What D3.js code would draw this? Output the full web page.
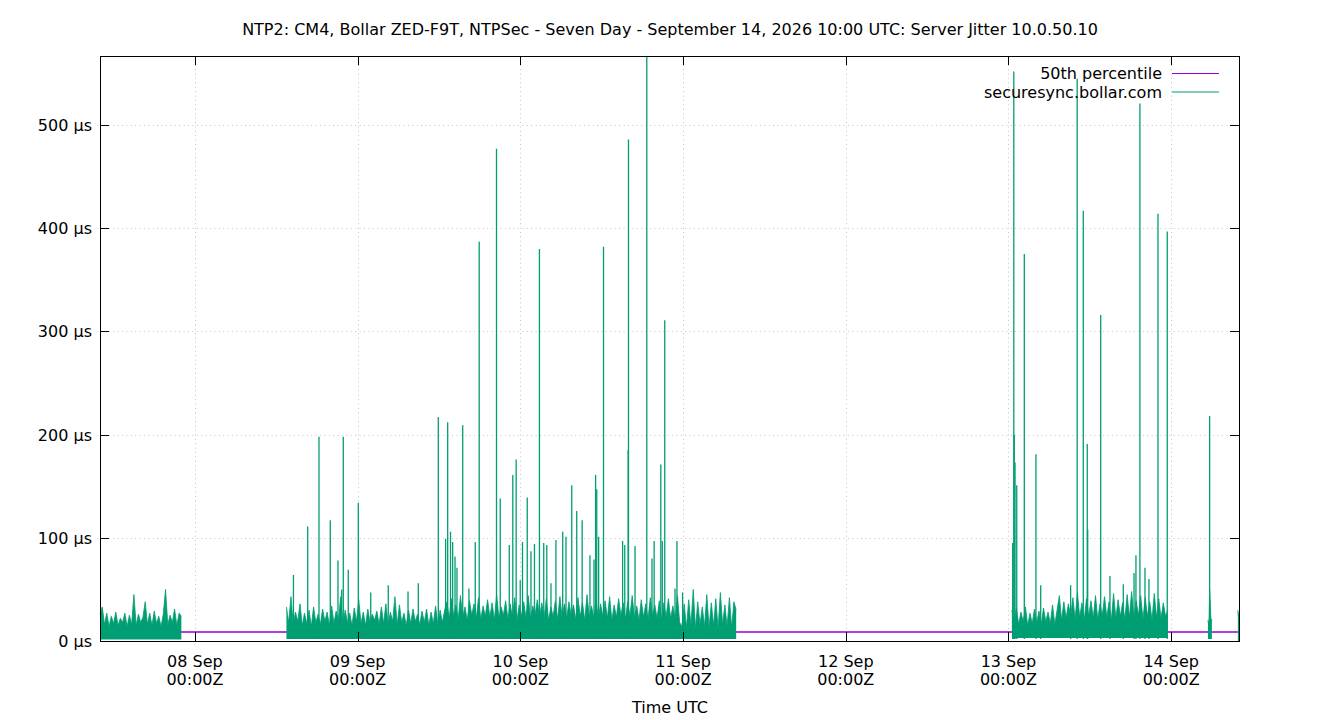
<!DOCTYPE html>
<html>
<head>
<meta charset="utf-8">
<script src="https://cdn.jsdelivr.net/npm/d3@7"></script>
<style>
body { margin: 0; background: #fff; }
svg text { font-family: "DejaVu Sans", sans-serif; font-size: 16px; fill: #000; }
</style>
</head>
<body>
<svg id="chart" width="1340" height="720"></svg>
<script>
// time window of the plot
const windowStart = "09-07 10:00";
const windowEnd = "09-14 10:00";

// 50th percentile (flat over the window)
const medianTimes = ["09-07 10:00", "09-14 10:00"];
const medianValues = [8.8, 8.8];

// jitter samples, one run of readings per block of data
const segmentStarts = ["09-07 10:00", "09-08 13:30", "09-13 00:30", "09-14 05:25", "09-14 09:50"];
const segmentStepMinutes = [20, 20, 20, 5, 5];
const segmentFloors = [1.5, 2, 3, 2, 0];

const seg1Values = [26, 33, 16, 27, 14, 24, 17, 28, 15, 22, 18, 27, 14, 25, 16, 45, 15, 26, 18, 23,
  38, 16, 27, 15, 29, 17, 24, 14, 26, 50, 16, 25, 18, 31, 15, 27, 24];

const seg2Values = [33, 18, 43, 16, 28, 19, 36, 15, 27, 17, 30, 14, 33, 18, 26, 16, 31, 19, 28, 15,
  34, 17, 29, 20, 43, 16, 30, 18, 27, 15, 32, 19, 40, 17, 28, 15, 31, 18, 26, 20,
  29, 16, 33, 17, 36, 15, 28, 19, 43, 16, 35, 18, 27, 15, 30, 17, 31, 19, 26, 16,
  29, 18, 31, 15, 28, 17, 34, 16, 30, 18, 30,
  38, 22, 41, 24, 35, 21, 44, 23, 33, 20, 39, 25, 36, 22, 42, 21, 34, 24, 40, 23,
  37, 20, 45, 22, 33, 25, 39, 21, 36, 23, 42, 20, 35, 24, 38, 22, 44, 21, 34, 25,
  40, 23, 37, 22, 41, 20, 33, 24, 39, 21, 43, 23, 36, 22, 38, 25, 35, 21, 42, 24,
  37, 20, 45, 23, 34, 22, 40, 21, 36, 24, 39, 22, 43, 20, 35, 23, 41, 25, 37, 21,
  38, 24, 44, 22, 34, 20, 40, 23, 36, 21, 42, 24, 35, 22, 39, 20, 37, 23, 41, 22,
  34, 21,
  44, 18, 14, 36, 13, 40, 15, 50, 12, 38, 16, 33, 14, 45, 13, 37, 15, 41, 12, 47,
  16, 35, 14, 42, 13, 38, 30];

const seg3Values = [30, 18, 32, 16, 28, 19, 33, 15, 27, 17, 31, 18, 29, 16, 32, 19, 28, 17, 35, 16,
  30, 44,
  20, 38, 22, 36, 24, 42, 21, 47, 23, 37, 20, 41, 24, 39, 22, 44, 21, 36, 25, 43,
  23, 38, 20, 46, 22, 40, 24, 37, 21, 45, 23, 48, 22, 39, 25, 44, 21, 42, 24, 38,
  20, 46, 23, 41, 22, 37, 24, 30];

const seg4Values = [20, 17, 22, 50, 40, 24, 19, 21];
const seg5Values = [30, 24, 28];

const segmentValues = [seg1Values, seg2Values, seg3Values, seg4Values, seg5Values];

// isolated large jitter readings
const spikeTimes = [
  "09-08 14:32", "09-08 16:38", "09-08 18:18", "09-08 19:58", "09-08 21:06", "09-08 21:39",
  "09-08 21:53", "09-08 22:37", "09-09 00:06", "09-09 01:56", "09-09 04:31", "09-09 07:26",
  "09-09 08:57", "09-09 11:54", "09-09 12:59", "09-09 13:17", "09-09 13:42", "09-09 14:01",
  "09-09 14:22", "09-09 14:39", "09-09 15:30", "09-09 16:25", "09-09 17:21", "09-09 17:56",
  "09-09 20:29", "09-09 21:02", "09-09 22:22", "09-09 22:53", "09-09 23:23", "09-09 23:59",
  "09-10 00:19", "09-10 01:01", "09-10 01:34", "09-10 02:05", "09-10 02:49", "09-10 03:27",
  "09-10 03:54", "09-10 04:31", "09-10 05:15", "09-10 06:15", "09-10 06:44", "09-10 07:35",
  "09-10 08:19", "09-10 09:07", "09-10 10:16", "09-10 10:52", "09-10 11:06", "09-10 11:16",
  "09-10 11:33", "09-10 12:16", "09-10 15:05", "09-10 15:24", "09-10 15:54", "09-10 15:57",
  "09-10 16:55", "09-10 18:39", "09-10 19:25", "09-10 19:44", "09-10 20:43", "09-10 20:56",
  "09-10 21:18", "09-10 22:49", "09-10 23:06", "09-10 23:56",
  "09-13 00:37", "09-13 00:47", "09-13 00:51", "09-13 00:58", "09-13 01:13", "09-13 02:20",
  "09-13 04:03", "09-13 04:45", "09-13 09:10", "09-13 10:08", "09-13 11:02", "09-13 11:37",
  "09-13 11:41", "09-13 13:36", "09-13 14:58", "09-13 16:56", "09-13 18:31", "09-13 18:48",
  "09-13 19:23", "09-13 20:08", "09-13 20:43", "09-13 22:03", "09-13 23:25",
  "09-14 05:40"];
const spikeValues = [
  64, 111, 198, 117, 78, 50,
  198, 69, 134, 47, 54, 48,
  56, 217, 99, 212, 106, 96,
  82, 71, 209, 51, 96, 387,
  477, 138, 93, 161, 176, 59,
  96, 139, 87, 94, 380, 95,
  93, 56, 98, 106, 101, 151,
  126, 117, 83, 79, 161, 147,
  101, 382, 97, 93, 185, 486,
  92, 567, 80, 97, 171, 97,
  311, 51, 97, 47,
  95, 552, 200, 173, 151, 375,
  181, 54, 54, 545, 417, 191,
  108, 316, 63, 55, 66, 83,
  521, 71, 60, 414, 397,
  218];

const yTickValues = [0, 100, 200, 300, 400, 500];
const yMax = 567;

const titleText = "NTP2: CM4, Bollar ZED-F9T, NTPSec - Seven Day - September 14, 2026 10:00 UTC: Server Jitter 10.0.50.10";
const seriesNames = ["50th percentile", "securesync.bollar.com"];
const seriesColors = ["#9400d3", "#009e73"];

const parseTime = d3.utcParse("%Y-%m-%d %H:%M");
const t = s => parseTime("2026-" + s);

const plotLeft = 100, plotRight = 1239, plotTop = 56, plotBottom = 641;

const svg = d3.select("#chart");

const x = d3.scaleUtc().domain([t(windowStart), t(windowEnd)]).range([plotLeft, plotRight]);
const y = d3.scaleLinear().domain([0, yMax]).range([plotBottom, plotTop]);

const xTicks = x.ticks(d3.utcDay.every(1)).filter(d => x(d) > plotLeft + 1 && x(d) < plotRight - 1);

// grid
const grid = svg.append("g").attr("stroke", "#c4c4c4").attr("stroke-width", 1)
  .attr("stroke-dasharray", "1,3.4");
grid.selectAll(".gy").data(yTickValues.filter(v => v > 0)).enter().append("line")
  .attr("x1", plotLeft).attr("x2", plotRight)
  .attr("y1", d => Math.round(y(d)) + 0.5).attr("y2", d => Math.round(y(d)) + 0.5);
grid.selectAll(".gx").data(xTicks).enter().append("line")
  .attr("y1", plotTop).attr("y2", plotBottom)
  .attr("x1", d => Math.round(x(d)) + 0.5).attr("x2", d => Math.round(x(d)) + 0.5);

// 50th percentile
const median = medianTimes.map((s, i) => ({ t: t(s), v: medianValues[i] }));
svg.append("path").datum(median)
  .attr("fill", "none").attr("stroke", seriesColors[0]).attr("stroke-width", 1.5)
  .attr("d", d3.line().x(d => x(d.t)).y(d => y(d.v)));

// jitter bands
const segments = segmentStarts.map((s, i) => {
  const start = t(s);
  return {
    floor: segmentFloors[i],
    points: segmentValues[i].map((v, j) => ({ t: d3.utcMinute.offset(start, j * segmentStepMinutes[i]), v: v }))
  };
});

const band = svg.append("g");
band.selectAll(".area").data(segments).enter().append("path")
  .attr("fill", seriesColors[1]).attr("stroke", "none")
  .attr("d", s => d3.area().x(d => x(d.t)).y0(y(s.floor)).y1(d => y(d.v))(s.points));
band.selectAll(".edge").data(segments).enter().append("path")
  .attr("fill", "none").attr("stroke", seriesColors[1]).attr("stroke-width", 1)
  .attr("stroke-opacity", 0.8)
  .attr("d", s => d3.line().x(d => x(d.t)).y(d => y(d.v))(s.points));

// spikes
const spikes = spikeTimes.map((s, i) => ({ t: t(s), v: spikeValues[i] }));
svg.append("g").selectAll("line").data(spikes).enter().append("line")
  .attr("x1", d => x(d.t)).attr("x2", d => x(d.t))
  .attr("y1", y(2)).attr("y2", d => y(d.v))
  .attr("stroke", seriesColors[1]).attr("stroke-width", 1.3);

// border
svg.append("rect").attr("x", plotLeft + 0.5).attr("y", plotTop + 0.5)
  .attr("width", plotRight - plotLeft).attr("height", plotBottom - plotTop)
  .attr("fill", "none").attr("stroke", "#000").attr("stroke-width", 1);

// ticks (inward, mirrored)
const tk = svg.append("g").attr("stroke", "#000").attr("stroke-width", 1);
xTicks.forEach(d => {
  const px = Math.round(x(d)) + 0.5;
  tk.append("line").attr("x1", px).attr("x2", px).attr("y1", plotBottom).attr("y2", plotBottom - 9);
  tk.append("line").attr("x1", px).attr("x2", px).attr("y1", plotTop).attr("y2", plotTop + 9);
});
yTickValues.forEach(v => {
  const py = Math.round(y(v)) + 0.5;
  tk.append("line").attr("x1", plotLeft).attr("x2", plotLeft + 9).attr("y1", py).attr("y2", py);
  tk.append("line").attr("x1", plotRight).attr("x2", plotRight - 9).attr("y1", py).attr("y2", py);
});

// tick labels
svg.append("g").selectAll("text").data(yTickValues).enter().append("text")
  .attr("x", 92).attr("y", d => y(d) + 6).attr("text-anchor", "end")
  .text(d => d + " µs");

const fmtDay = d3.utcFormat("%d %b");
const fmtHour = d3.utcFormat("%H:%MZ");
const xl = svg.append("g").selectAll("g").data(xTicks).enter().append("g");
xl.append("text").attr("x", d => x(d)).attr("y", 667).attr("text-anchor", "middle").text(fmtDay);
xl.append("text").attr("x", d => x(d)).attr("y", 685).attr("text-anchor", "middle").text(fmtHour);

// axis title, chart title
svg.append("text").attr("x", 670).attr("y", 713).attr("text-anchor", "middle").text("Time UTC");
svg.append("text").attr("x", 670).attr("y", 35).attr("text-anchor", "middle").text(titleText);

// legend
const lg = svg.append("g").selectAll("g").data(seriesNames).enter().append("g");
lg.append("text").attr("x", 1162).attr("y", (d, i) => 79 + i * 18.5).attr("text-anchor", "end").text(d => d);
lg.append("line").attr("x1", 1172).attr("x2", 1219)
  .attr("y1", (d, i) => 73.5 + i * 18.5).attr("y2", (d, i) => 73.5 + i * 18.5)
  .attr("stroke", (d, i) => seriesColors[i]).attr("stroke-width", 1);
</script>
</body>
</html>
